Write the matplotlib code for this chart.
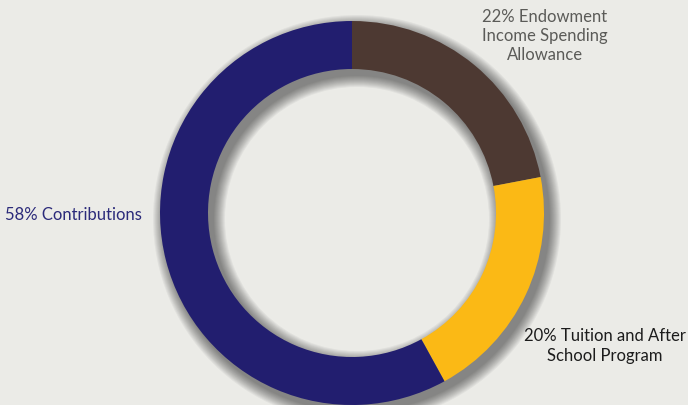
import matplotlib
matplotlib.use("Agg")
import matplotlib.pyplot as plt
from matplotlib.patches import Wedge

# Datos del grafico
labels = ["22% Endowment\nIncome Spending\nAllowance",
          "20% Tuition and After\nSchool Program",
          "58% Contributions"]
values = [22, 20, 58]
colors = ["#4d3932", "#fbb915", "#221e6f"]
text_colors = ["#5b5b58", "#1c1c1c", "#2b2a7a"]

bg = "#ebebe7"
W, H = 688, 406
cx, cy = 352, H - 214
R = 192
ring = 48

fig = plt.figure(figsize=(W / 100, H / 100), dpi=100, facecolor=bg)
ax = fig.add_axes([0, 0, 1, 1])
ax.set_facecolor(bg)

# sombra difusa (desplazada abajo a la derecha)
for s in range(12, 0, -1):
    sh = Wedge((cx + 5, cy - 6), R + s * 1.0, 0, 360, width=ring + s * 2.0,
               facecolor="#000000", alpha=0.045, edgecolor="none")
    ax.add_patch(sh)

ax.pie(values, colors=colors, startangle=90, counterclock=False,
       center=(cx, cy), radius=R, frame=True,
       wedgeprops=dict(width=ring, edgecolor="none"))
ax.set_xlim(0, W)
ax.set_ylim(0, H)
ax.set_aspect("equal")
ax.axis("off")

font = "Lato"
ax.text(545, H - 36, labels[0], ha="center", va="center", fontsize=12,
        color=text_colors[0], family=font, linespacing=1.25, multialignment="center")
ax.text(605, H - 346, labels[1], ha="center", va="center", fontsize=12,
        color=text_colors[1], family=font, linespacing=1.25, multialignment="center")
ax.text(5, H - 215, labels[2], ha="left", va="center", fontsize=12,
        color=text_colors[2], family=font)

plt.savefig("out.png", dpi=100, facecolor=bg)
